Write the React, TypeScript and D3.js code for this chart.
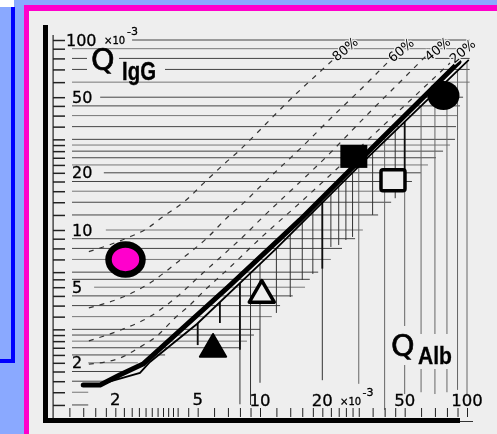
import React, { useRef, useEffect } from 'react';
import * as d3 from 'd3';

// Horizontal rules: Q IgG tick, where the rule starts and where it stops (Q Alb)
const yTicks = [100, 90, 80, 70, 60, 50, 45, 40, 35, 30, 28, 26, 24, 22, 20, 18, 16, 14, 12, 10, 9, 8, 7, 6, 5.5, 5, 4.5, 4, 3.5, 3, 2.8, 2.6, 2.4, 2.2, 2, 1.8, 1.6, 1.4, 1.2];
const yRuleEnds = [103, 103, 103, 103, 103, 95.7, 92.5, 89.5, 88.5, 87.5, 82.8, 76.6, 70.8, 64.8, 59.9, 54.2, 48.5, 43, 37.2, 31.4, 28.8, 24.9, 22, 19.1, 17.4, 16.5, 14.4, 12.5, 11.4, 10, 9.35, 8.65, 7.92, 3.48, 2.57, 2.36, 1.89, 1.48, 1.48];
const yRuleStarts: Record<number, number> = { 100: 2.41, 50: 1.69, 20: 1.76, 10: 1.8, 5: 1.58, 2: 1.48 };
const yLabels = [100, 50, 20, 10, 5, 2];

// Vertical rules: Q Alb value and the Q IgG value where each one stops
const xRules = [5, 6.4, 8, 9, 10, 12, 14, 16, 18, 20, 22, 24, 26, 28, 30, 35, 40, 45, 50, 60, 70, 80, 90, 100];
const xRuleBottoms = [2.48, 3.24, 1.21, 1.2, 1.57, 3.66, 4.44, 5.46, 5.87, 1.62, 8.14, 8.34, 8.86, 9.19, 1.55, 12, 1.13, 14.7, 1.37, 1.4, 1.37, 1.4, 1.44, 1.37];
// Heavier upper parts of a few verticals: [Q Alb, Q IgG where the heavy part ends]
const heavyRules = [[5, 2.48], [6.4, 3.24], [8, 2.34], [20, 6.26], [50, 20.2]];

const xTicks = [1.2, 1.4, 1.6, 1.8, 2, 2.2, 2.4, 2.6, 2.8, 3, 3.2, 3.4, 3.6, 3.8, 4, 4.5, 5, 6, 7, 8, 9, 10, 12, 14, 16, 18, 20, 22, 24, 26, 28, 30, 35, 40, 45, 50, 60, 70, 80, 90, 100];
const xLabels = [2, 5, 10, 20, 50, 100];

// Boundary curves
const thickAlb = [1.4, 1.69, 2.11, 2.72, 7.01, 15.6, 36.8, 91.5];
const thickIgG = [1.53, 1.53, 1.73, 1.97, 5.01, 11.3, 28.7, 76.6];
const thinAlb = [1.65, 2.63, 2.94, 4.96, 11.8, 32.9, 102];
const thinIgG = [1.53, 1.77, 2.02, 3.2, 7.85, 23.9, 78.5];

// Dashed fraction curves
const alb80 = [1.49, 2.28, 2.81, 3.4, 4.34, 5.42, 6.78, 7.83, 9.67, 11.56, 14.4, 19.5, 22.5];
const igg80 = [7.69, 9.08, 10.1, 11.75, 14.2, 17.9, 22.5, 25.8, 32.4, 39.5, 50.1, 68.1, 78.5];
const alb60 = [1.49, 2.18, 2.94, 4.02, 5.55, 7.01, 8.46, 10, 16.3, 22.8, 29.4, 42.5];
const igg60 = [3.89, 4.44, 5.26, 6.81, 9.08, 11.75, 14.1, 16.9, 28, 40.3, 52.6, 78.5];
const alb40 = [1.49, 2.18, 2.94, 3.8, 5.3, 6.63, 8.28, 10, 21.8, 33.6, 51.3, 64.1];
const igg40 = [2.61, 3.01, 3.5, 4.28, 5.94, 7.39, 9.22, 11.3, 25.4, 41.3, 65.4, 83.4];
const alb20 = [1.49, 2.11, 2.63, 3.18, 3.88, 4.59, 5.42, 6.93, 10.2, 15.6, 33.2, 82.8];
const igg20 = [1.97, 2.12, 2.42, 2.77, 3.44, 4.03, 4.83, 6.16, 9.19, 13.9, 29.8, 75.7];

const PAPER = '#eeeeee';
const PINK = '#ff00cc';
const BG = '#8aa9ff';
const FONT = '"DejaVu Sans", sans-serif';

const App: React.FC = () => {
  const svgRef = useRef<SVGSVGElement>(null);

  useEffect(() => {
    const svg = d3.select(svgRef.current);
    svg.selectAll('*').remove();

    const defs = svg.append('defs');
    defs.append('filter')
      .attr('id', 'scan')
      .append('feGaussianBlur')
      .attr('stdDeviation', 0.4);

    // Page frame
    svg.append('rect').attr('width', 497).attr('height', 434).attr('fill', BG);
    svg.append('rect').attr('width', 14).attr('height', 7).attr('fill', '#fff');
    svg.append('rect').attr('x', 11).attr('y', 7).attr('width', 4).attr('height', 356).attr('fill', '#0000ff');
    svg.append('rect').attr('y', 359).attr('width', 15).attr('height', 4).attr('fill', '#0000ff');
    svg.append('rect').attr('x', 24).attr('y', 5).attr('width', 473).attr('height', 429).attr('fill', PINK);
    svg.append('rect').attr('x', 29).attr('y', 11).attr('width', 468).attr('height', 423).attr('fill', PAPER);

    const g = svg.append('g').attr('filter', 'url(#scan)');

    // Scales
    const xScale = d3.scaleLog().domain([1, 100]).range([53, 467]);
    const yScale = d3.scaleLog().domain([1, 100]).range([420, 40]);
    const thinAt = d3.scaleLog().domain(thinAlb).range(thinIgG.map(v => Math.log10(v)));

    // Horizontal rules
    g.append('g')
      .selectAll('line')
      .data(yTicks)
      .join('line')
      .attr('x1', d => yRuleStarts[d] ? xScale(yRuleStarts[d]) : 72)
      .attr('x2', (d, i) => xScale(yRuleEnds[i]))
      .attr('y1', d => yScale(d))
      .attr('y2', d => yScale(d))
      .attr('stroke', (d, i) => (i % 3 === 1 ? '#777' : '#444'))
      .attr('stroke-width', 1);

    // Gaps in the rules behind the Q IgG title
    g.append('rect').attr('x', 87).attr('y', 50).attr('width', 32).attr('height', 24).attr('fill', PAPER);
    g.append('rect').attr('x', 119).attr('y', 62).attr('width', 46).attr('height', 12).attr('fill', PAPER);

    // Vertical rules
    g.append('g')
      .selectAll('line')
      .data(xRules)
      .join('line')
      .attr('x1', d => xScale(d))
      .attr('x2', d => xScale(d))
      .attr('y1', d => yScale(Math.pow(10, thinAt(d))))
      .attr('y2', (d, i) => yScale(xRuleBottoms[i]))
      .attr('stroke', d => (d >= 30 && d !== 35 && d !== 45 ? '#666' : '#333'))
      .attr('stroke-width', 1);

    g.append('g')
      .selectAll('line')
      .data(heavyRules)
      .join('line')
      .attr('x1', d => xScale(d[0]))
      .attr('x2', d => xScale(d[0]))
      .attr('y1', d => yScale(Math.pow(10, thinAt(d[0]))))
      .attr('y2', d => yScale(d[1]))
      .attr('stroke', '#111')
      .attr('stroke-width', 1.8);

    // Gaps in the verticals behind the Q Alb title
    g.append('rect').attr('x', 398).attr('y', 326).attr('width', 16).attr('height', 39).attr('fill', PAPER);
    g.append('rect').attr('x', 414).attr('y', 334).attr('width', 40).attr('height', 35).attr('fill', PAPER);

    // Axes
    g.append('g')
      .attr('transform', 'translate(0,417)')
      .call(d3.axisBottom(xScale).tickValues(xTicks).tickSize(-9).tickFormat(() => ''))
      .call(s => s.select('.domain').remove())
      .selectAll('line')
      .attr('stroke', '#222');

    g.append('g')
      .attr('transform', 'translate(53,0)')
      .call(d3.axisLeft(yScale).tickValues(yTicks).tickSize(-12).tickFormat(() => ''))
      .call(s => s.select('.domain').remove())
      .selectAll('line')
      .attr('stroke', '#222')
      .attr('stroke-width', 1.5);

    g.append('rect').attr('x', 43).attr('y', 25).attr('width', 5).attr('height', 397).attr('fill', '#000');
    g.append('rect').attr('x', 52.5).attr('y', 35).attr('width', 1.2).attr('height', 383).attr('fill', '#222');
    g.append('rect').attr('x', 43).attr('y', 418).attr('width', 417).attr('height', 5).attr('fill', '#000');
    g.append('rect').attr('x', 460).attr('y', 421).attr('width', 13).attr('height', 1).attr('fill', '#333');

    // Dashed curves
    const dashed = d3.line<[number, number]>()
      .x(d => xScale(d[0]))
      .y(d => yScale(d[1]))
      .curve(d3.curveMonotoneX);

    [[alb80, igg80], [alb60, igg60], [alb40, igg40], [alb20, igg20]].forEach(([a, b]) => {
      g.append('path')
        .datum(a.map((v, i) => [v, b[i]] as [number, number]))
        .attr('fill', 'none')
        .attr('stroke', '#333')
        .attr('stroke-width', 1.2)
        .attr('stroke-dasharray', '5,6')
        .attr('d', dashed);
    });

    // Boundary lines
    const straight = d3.line<[number, number]>()
      .x(d => xScale(d[0]))
      .y(d => yScale(d[1]));

    g.append('path')
      .datum(thinAlb.map((v, i) => [v, thinIgG[i]] as [number, number]))
      .attr('fill', 'none')
      .attr('stroke', '#000')
      .attr('stroke-width', 1.8)
      .attr('d', straight);

    g.append('path')
      .datum(thickAlb.map((v, i) => [v, thickIgG[i]] as [number, number]))
      .attr('fill', 'none')
      .attr('stroke', '#000')
      .attr('stroke-width', 5)
      .attr('stroke-linecap', 'round')
      .attr('stroke-linejoin', 'round')
      .attr('d', straight);

    // Patient markers
    g.append('ellipse')
      .attr('cx', xScale(2.24)).attr('cy', yScale(7))
      .attr('rx', 17).attr('ry', 15)
      .attr('fill', PINK).attr('stroke', '#000').attr('stroke-width', 6.5);

    g.append('rect')
      .attr('x', xScale(28.4) - 13.5).attr('y', yScale(24.4) - 11.5)
      .attr('width', 27).attr('height', 23)
      .attr('fill', '#000');

    g.append('rect')
      .attr('x', xScale(43.9) - 12).attr('y', yScale(18.3) - 10.5)
      .attr('width', 24).attr('height', 21).attr('rx', 2)
      .attr('fill', PAPER).attr('stroke', '#000').attr('stroke-width', 3.5);

    g.append('ellipse')
      .attr('cx', xScale(77)).attr('cy', yScale(51))
      .attr('rx', 16).attr('ry', 14.5)
      .attr('fill', '#000');

    g.append('path')
      .attr('transform', `translate(${xScale(10.2)},${yScale(4.55)})`)
      .attr('d', d3.symbol(d3.symbolTriangle, 270)())
      .attr('fill', PAPER)
      .attr('stroke', '#000')
      .attr('stroke-width', 3.5)
      .attr('stroke-linejoin', 'round');

    g.append('path')
      .attr('transform', `translate(${xScale(5.93)},${yScale(2.36)})`)
      .attr('d', d3.symbol(d3.symbolTriangle, 300)())
      .attr('fill', '#000')
      .attr('stroke', '#000')
      .attr('stroke-width', 2)
      .attr('stroke-linejoin', 'round');

    // Axis labels
    const text = (x: number, y: number, s: string, size: number, anchor = 'start') =>
      g.append('text')
        .attr('x', x)
        .attr('y', y)
        .attr('text-anchor', anchor)
        .style('font-family', FONT)
        .style('font-size', `${size}px`)
        .style('fill', '#000')
        .style('stroke', '#000')
        .style('stroke-width', 0.3)
        .text(s);

    yLabels.forEach(d => {
      text(d === 100 ? 66 : 72, yScale(d) + 5.5, String(d), 16);
    });
    text(104, 44, '×10', 10);
    text(127, 35, '-3', 11);

    xLabels.forEach(d => {
      text(xScale(d), d < 10 ? 405 : 406, String(d), 16.5, 'middle');
    });
    text(340, 405, '×10', 10);
    text(362.5, 396, '-3', 11);

    // Titles
    text(91, 70, 'Q', 30).style('stroke-width', 0.6);
    text(122, 80, 'IgG', 25)
      .attr('textLength', 34)
      .attr('lengthAdjust', 'spacingAndGlyphs')
      .style('font-family', '"Liberation Sans", sans-serif')
      .style('font-weight', 'bold');

    text(391, 356, 'Q', 30).style('stroke-width', 0.6);
    text(418, 364, 'Alb', 24)
      .attr('textLength', 34)
      .attr('lengthAdjust', 'spacingAndGlyphs')
      .style('font-family', '"Liberation Sans", sans-serif')
      .style('font-weight', 'bold');

    // Fraction labels on the dashed curves, with a paper halo that breaks the rules
    [['80%', 345, 49], ['60%', 401, 50], ['40%', 437.5, 49], ['20%', 462.5, 51]].forEach(([s, x, y]) => {
      g.append('text')
        .attr('text-anchor', 'middle')
        .attr('dy', '0.35em')
        .attr('transform', `translate(${x},${y}) rotate(-40)`)
        .attr('paint-order', 'stroke')
        .attr('stroke', PAPER)
        .attr('stroke-width', 2.5)
        .style('font-family', FONT)
        .style('font-size', '13px')
        .style('fill', '#000')
        .text(s as string);
    });
  }, []);

  return (
    <svg
      ref={svgRef}
      width={497}
      height={434}
      style={{ position: 'absolute', left: 0, top: 0, display: 'block' }}
    />
  );
};

export default App;
